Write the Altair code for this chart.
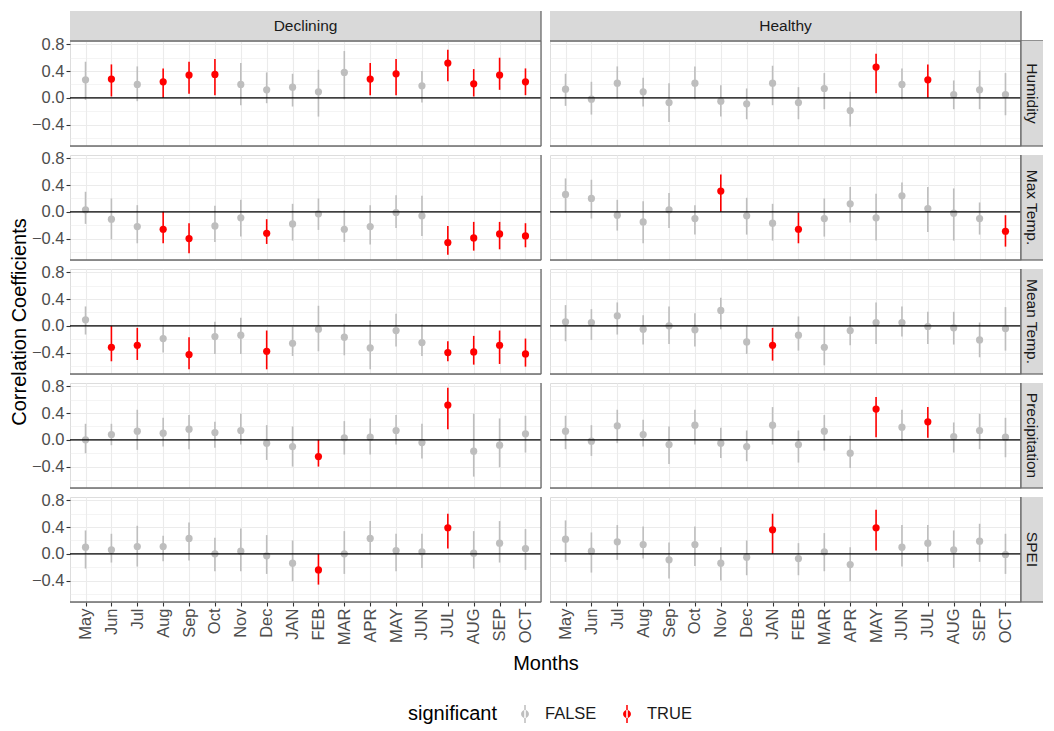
import json
import altair as alt
import pandas as pd

# ---------------- data ----------------
months = ["May", "Jun", "Jul", "Aug", "Sep", "Oct", "Nov", "Dec", "JAN", "FEB",
          "MAR", "APR", "MAY", "JUN", "JUL", "AUG", "SEP", "OCT"]
sites = ["Declining", "Healthy"]
variables = ["Humidity", "Max Temp.", "Mean Temp.", "Precipitation", "SPEI"]
y_major = [-0.4, 0.0, 0.4, 0.8]
y_minor = [-0.6, -0.2, 0.2, 0.6]
y_domain = [-0.72, 0.85]
legend_levels = ["FALSE", "TRUE"]
legend_colors = ["#BEBEBE", "#FF0000"]

dec_hum_est = [0.27, 0.28, 0.20, 0.24, 0.34, 0.35, 0.20, 0.12, 0.16, 0.09, 0.38, 0.28, 0.36, 0.18, 0.52, 0.21, 0.34, 0.24]
dec_hum_lo = [-0.03, 0.02, -0.05, 0.00, 0.06, 0.04, -0.11, -0.08, -0.13, -0.28, -0.02, 0.04, 0.04, -0.07, 0.25, 0.02, 0.12, 0.04]
dec_hum_hi = [0.54, 0.50, 0.47, 0.44, 0.54, 0.58, 0.52, 0.38, 0.36, 0.42, 0.70, 0.52, 0.58, 0.40, 0.72, 0.43, 0.60, 0.44]
dec_hum_sig = [0, 1, 0, 1, 1, 1, 0, 0, 0, 0, 0, 1, 1, 0, 1, 1, 1, 1]

hea_hum_est = [0.13, -0.02, 0.22, 0.09, -0.07, 0.22, -0.05, -0.09, 0.22, -0.07, 0.14, -0.19, 0.46, 0.20, 0.27, 0.05, 0.12, 0.05]
hea_hum_lo = [-0.12, -0.25, -0.01, -0.13, -0.36, -0.02, -0.28, -0.32, -0.11, -0.32, -0.17, -0.43, 0.07, -0.02, 0.00, -0.17, -0.17, -0.26]
hea_hum_hi = [0.36, 0.24, 0.47, 0.30, 0.22, 0.47, 0.19, 0.14, 0.48, 0.16, 0.37, 0.09, 0.66, 0.44, 0.50, 0.26, 0.41, 0.37]
hea_hum_sig = [0, 0, 0, 0, 0, 0, 0, 0, 0, 0, 0, 0, 1, 0, 1, 0, 0, 0]

dec_max_est = [0.03, -0.11, -0.22, -0.26, -0.40, -0.21, -0.09, -0.32, -0.18, -0.03, -0.26, -0.22, -0.01, -0.06, -0.46, -0.39, -0.33, -0.36]
dec_max_lo = [-0.18, -0.41, -0.47, -0.47, -0.62, -0.45, -0.37, -0.48, -0.43, -0.27, -0.45, -0.49, -0.24, -0.36, -0.64, -0.58, -0.56, -0.53]
dec_max_hi = [0.30, 0.20, 0.10, 0.00, -0.17, 0.09, 0.18, -0.11, 0.12, 0.20, 0.02, 0.10, 0.25, 0.24, -0.21, -0.15, -0.15, -0.17]
dec_max_sig = [0, 0, 0, 1, 1, 0, 0, 1, 0, 0, 0, 0, 0, 0, 1, 1, 1, 1]

hea_max_est = [0.26, 0.20, -0.05, -0.15, 0.03, -0.10, 0.31, -0.06, -0.17, -0.26, -0.10, 0.12, -0.09, 0.24, 0.05, -0.02, -0.10, -0.29]
hea_max_lo = [-0.01, -0.10, -0.28, -0.47, -0.24, -0.34, 0.00, -0.34, -0.43, -0.47, -0.37, -0.16, -0.43, 0.01, -0.30, -0.43, -0.34, -0.52]
hea_max_hi = [0.50, 0.48, 0.18, 0.16, 0.28, 0.10, 0.56, 0.21, 0.12, -0.01, 0.20, 0.37, 0.27, 0.44, 0.37, 0.35, 0.14, -0.05]
hea_max_sig = [0, 0, 0, 0, 0, 0, 1, 0, 0, 1, 0, 0, 0, 0, 0, 0, 0, 1]

dec_mean_est = [0.09, -0.32, -0.29, -0.19, -0.43, -0.16, -0.14, -0.38, -0.26, -0.05, -0.17, -0.33, -0.07, -0.25, -0.40, -0.39, -0.29, -0.42]
dec_mean_lo = [-0.13, -0.53, -0.51, -0.40, -0.65, -0.42, -0.42, -0.65, -0.45, -0.38, -0.44, -0.65, -0.31, -0.45, -0.53, -0.58, -0.57, -0.61]
dec_mean_hi = [0.29, 0.00, -0.03, 0.01, -0.17, 0.06, 0.12, -0.07, -0.01, 0.30, 0.03, 0.08, 0.18, 0.02, -0.23, -0.15, -0.07, -0.19]
dec_mean_sig = [0, 1, 1, 0, 1, 0, 0, 1, 0, 0, 0, 0, 0, 0, 1, 1, 1, 1]

hea_mean_est = [0.06, 0.05, 0.15, -0.05, 0.00, -0.06, 0.23, -0.24, -0.29, -0.14, -0.32, -0.07, 0.05, 0.05, -0.01, -0.03, -0.21, -0.04]
hea_mean_lo = [-0.23, -0.21, -0.13, -0.28, -0.27, -0.31, -0.05, -0.42, -0.52, -0.37, -0.59, -0.29, -0.27, -0.16, -0.27, -0.28, -0.47, -0.37]
hea_mean_hi = [0.31, 0.25, 0.35, 0.16, 0.29, 0.19, 0.42, 0.00, -0.03, 0.14, 0.00, 0.14, 0.35, 0.29, 0.21, 0.21, 0.05, 0.28]
hea_mean_sig = [0, 0, 0, 0, 0, 0, 0, 0, 1, 0, 0, 0, 0, 0, 0, 0, 0, 0]

dec_prec_est = [0.00, 0.08, 0.13, 0.10, 0.16, 0.11, 0.14, -0.05, -0.10, -0.25, 0.03, 0.04, 0.14, -0.04, 0.52, -0.17, -0.08, 0.09]
dec_prec_lo = [-0.20, -0.08, -0.15, -0.10, -0.14, -0.12, -0.07, -0.30, -0.40, -0.40, -0.22, -0.22, -0.07, -0.28, 0.16, -0.55, -0.41, -0.19]
dec_prec_hi = [0.24, 0.24, 0.45, 0.33, 0.37, 0.27, 0.39, 0.22, 0.20, 0.00, 0.28, 0.32, 0.37, 0.24, 0.78, 0.39, 0.32, 0.36]
dec_prec_sig = [0, 0, 0, 0, 0, 0, 0, 0, 0, 1, 0, 0, 0, 0, 1, 0, 0, 0]

hea_prec_est = [0.13, -0.02, 0.21, 0.08, -0.07, 0.22, -0.05, -0.10, 0.22, -0.07, 0.13, -0.20, 0.46, 0.19, 0.27, 0.05, 0.14, 0.04]
hea_prec_lo = [-0.14, -0.24, -0.05, -0.10, -0.36, -0.07, -0.27, -0.32, -0.07, -0.34, -0.16, -0.42, 0.04, -0.02, 0.03, -0.19, -0.14, -0.26]
hea_prec_hi = [0.36, 0.22, 0.45, 0.30, 0.20, 0.45, 0.18, 0.14, 0.49, 0.14, 0.37, 0.06, 0.64, 0.45, 0.49, 0.26, 0.39, 0.33]
hea_prec_sig = [0, 0, 0, 0, 0, 0, 0, 0, 0, 0, 0, 0, 1, 0, 1, 0, 0, 0]

dec_spei_est = [0.10, 0.06, 0.11, 0.11, 0.23, 0.00, 0.04, -0.03, -0.14, -0.24, 0.00, 0.23, 0.05, 0.03, 0.39, 0.01, 0.16, 0.08]
dec_spei_lo = [-0.22, -0.13, -0.19, -0.11, -0.10, -0.26, -0.26, -0.30, -0.41, -0.46, -0.30, -0.01, -0.26, -0.21, 0.08, -0.22, -0.13, -0.24]
dec_spei_hi = [0.35, 0.30, 0.42, 0.27, 0.47, 0.24, 0.38, 0.28, 0.20, 0.00, 0.34, 0.49, 0.30, 0.30, 0.60, 0.34, 0.49, 0.37]
dec_spei_sig = [0, 0, 0, 0, 0, 0, 0, 0, 0, 1, 0, 0, 0, 0, 1, 0, 0, 0]

hea_spei_est = [0.22, 0.04, 0.18, 0.14, -0.09, 0.14, -0.14, -0.05, 0.36, -0.07, 0.03, -0.16, 0.39, 0.10, 0.16, 0.06, 0.19, -0.01]
hea_spei_lo = [-0.12, -0.28, -0.09, -0.07, -0.37, -0.18, -0.40, -0.32, 0.00, -0.32, -0.26, -0.41, 0.05, -0.19, -0.12, -0.21, -0.12, -0.30]
hea_spei_hi = [0.50, 0.32, 0.43, 0.41, 0.17, 0.41, 0.10, 0.20, 0.60, 0.16, 0.31, 0.10, 0.66, 0.43, 0.43, 0.35, 0.45, 0.30]
hea_spei_sig = [0, 0, 0, 0, 0, 0, 0, 0, 1, 0, 0, 0, 1, 0, 0, 0, 0, 0]

series = {
    ("Declining", "Humidity"): (dec_hum_est, dec_hum_lo, dec_hum_hi, dec_hum_sig),
    ("Healthy", "Humidity"): (hea_hum_est, hea_hum_lo, hea_hum_hi, hea_hum_sig),
    ("Declining", "Max Temp."): (dec_max_est, dec_max_lo, dec_max_hi, dec_max_sig),
    ("Healthy", "Max Temp."): (hea_max_est, hea_max_lo, hea_max_hi, hea_max_sig),
    ("Declining", "Mean Temp."): (dec_mean_est, dec_mean_lo, dec_mean_hi, dec_mean_sig),
    ("Healthy", "Mean Temp."): (hea_mean_est, hea_mean_lo, hea_mean_hi, hea_mean_sig),
    ("Declining", "Precipitation"): (dec_prec_est, dec_prec_lo, dec_prec_hi, dec_prec_sig),
    ("Healthy", "Precipitation"): (hea_prec_est, hea_prec_lo, hea_prec_hi, hea_prec_sig),
    ("Declining", "SPEI"): (dec_spei_est, dec_spei_lo, dec_spei_hi, dec_spei_sig),
    ("Healthy", "SPEI"): (hea_spei_est, hea_spei_lo, hea_spei_hi, hea_spei_sig),
}

# ---------------- layout / style ----------------
W, H = 471, 105
GAP = 9
STRIP_H, STRIP_W = 30, 22
GRID = "#EBEBEB"
BORDER = "#6B6B6B"
STRIP_FILL = "#D9D9D9"
FONT = "Liberation Sans"
TICK_FS = 16.5
TITLE_FS = 20
STRIP_FS = 15.5

major_test = "indexof(%s, datum.value) >= 0" % json.dumps(y_major)
y_vals = sorted(y_major + y_minor)
xscale = alt.Scale(type="point", domain=months, padding=0.6)
yscale = alt.Scale(domain=y_domain, nice=False, zero=False)

# legend glyph: vertical bar with a dot (pointrange)
GLYPH = ("M-0.085,-1L0.085,-1L0.085,1L-0.085,1Z "
         "M-0.44,0A0.44,0.44 0 1,0 0.44,0A0.44,0.44 0 1,0 -0.44,0Z")

legend = alt.Legend(
    title="significant", orient="none", legendX=338, legendY=664,
    direction="horizontal", titleOrient="left", titleFontSize=TITLE_FS,
    titleFontWeight="normal", titleColor="#000000", titlePadding=19,
    labelFontSize=TICK_FS, labelColor="#1A1A1A", labelOffset=11,
    symbolType=GLYPH, symbolSize=324, symbolStrokeWidth=0, symbolOpacity=1,
    columnPadding=21,
)
color = alt.Color("significant:N",
                  scale=alt.Scale(domain=legend_levels, range=legend_colors),
                  legend=legend)


def y_axis(show_labels, title):
    if show_labels:
        kw = dict(labels=True, ticks=True, tickSize=4, tickWidth=1.1,
                  tickColor={"condition": {"test": major_test, "value": "#333333"},
                             "value": "rgba(0,0,0,0)"},
                  format=".1f", labelExpr=f"{major_test} ? datum.label : ''",
                  labelColor="#4D4D4D", labelFontSize=TICK_FS, labelPadding=2)
    else:
        kw = dict(labels=False, ticks=False)
    if title:
        kw.update(title=title, titleFontSize=TITLE_FS, titleFontWeight="normal",
                  titleColor="#000000", titlePadding=2)
    else:
        kw["title"] = None
    return alt.Axis(values=y_vals, grid=True, gridColor=GRID,
                    gridWidth={"condition": {"test": major_test, "value": 1.1},
                               "value": 0.55},
                    domain=False, **kw)


def x_axis(bottom, title):
    kw = dict(grid=True, gridColor=GRID, gridWidth=1.1, domain=False)
    if bottom:
        kw.update(labels=True, ticks=True, tickSize=4, tickWidth=1.1,
                  tickColor="#333333", labelAngle=-90, labelColor="#4D4D4D",
                  labelFontSize=TICK_FS, labelPadding=2)
    else:
        kw.update(labels=False, ticks=False)
    if title:
        kw.update(title=title, titleFontSize=TITLE_FS, titleFontWeight="normal",
                  titleColor="#000000", titleX=W + GAP / 2, titleY=61,
                  titleAlign="center", titleBaseline="middle")
    else:
        kw["title"] = None
    return alt.Axis(**kw)


rows = []
for site in sites:
    for var in variables:
        est, lo, hi, sig = series[(site, var)]
        for m, e, l, h, s in zip(months, est, lo, hi, sig):
            rows.append({"site": site, "variable": var, "month": m, "est": e,
                         "lo": l, "hi": h,
                         "significant": legend_levels[1] if s else legend_levels[0]})
df = pd.DataFrame(rows)
one = pd.DataFrame({"k": [0]})
zero_df = pd.DataFrame({"zero": [0.0]})


def cell(r, c):
    site, var = sites[c], variables[r]
    d = df[(df.site == site) & (df.variable == var)]
    last = r == len(variables) - 1
    xa = x_axis(last, "Months" if (last and c == 0) else None)
    ya = y_axis(c == 0, "Correlation Coefficients" if (c == 0 and r == 2) else None)
    X = alt.X("month:N", scale=xscale, axis=xa)

    pts = alt.Chart(d).mark_circle(size=52, opacity=1).encode(
        x=X, y=alt.Y("est:Q", scale=yscale, axis=ya), color=color)
    bars = alt.Chart(d).mark_rule(strokeWidth=1.6).encode(
        x=X, y=alt.Y("lo:Q", scale=yscale, axis=ya), y2="hi:Q", color=color)
    zero = alt.Chart(zero_df).mark_rule(color="black", strokeWidth=1.1).encode(
        y=alt.Y("zero:Q", scale=yscale, axis=ya))

    layers = [pts, bars, zero]
    # panel border (right and bottom edges)
    layers.append(alt.Chart(one).mark_rule(color=BORDER, strokeWidth=1.3).encode(
        x=alt.value(W), y=alt.value(0), y2=alt.value(H)))
    layers.append(alt.Chart(one).mark_rule(color=BORDER, strokeWidth=1.3).encode(
        x=alt.value(0), x2=alt.value(W), y=alt.value(H)))

    if r == 0:
        sdf = pd.DataFrame({"label": [site]})
        layers.append(alt.Chart(sdf).mark_rect(color=STRIP_FILL).encode(
            x=alt.value(0), x2=alt.value(W), y=alt.value(-STRIP_H), y2=alt.value(0)))
        layers.append(alt.Chart(sdf).mark_text(fontSize=STRIP_FS, color="#1A1A1A",
                                               baseline="middle", align="center").encode(
            x=alt.value(W / 2), y=alt.value(-STRIP_H / 2), text="label:N"))
        layers.append(alt.Chart(one).mark_rule(color=BORDER, strokeWidth=1.3).encode(
            x=alt.value(W), y=alt.value(-STRIP_H), y2=alt.value(0)))
        layers.append(alt.Chart(one).mark_rule(color=BORDER, strokeWidth=1.3).encode(
            x=alt.value(0), x2=alt.value(W + (STRIP_W if c == 1 else 0)), y=alt.value(0)))
    if c == 1:
        vdf = pd.DataFrame({"label": [var]})
        layers.append(alt.Chart(vdf).mark_rect(color=STRIP_FILL).encode(
            x=alt.value(W), x2=alt.value(W + STRIP_W), y=alt.value(0), y2=alt.value(H)))
        layers.append(alt.Chart(vdf).mark_text(fontSize=STRIP_FS, color="#1A1A1A", angle=90,
                                               baseline="middle", align="center").encode(
            x=alt.value(W + STRIP_W / 2), y=alt.value(H / 2), text="label:N"))
        layers.append(alt.Chart(one).mark_rule(color=BORDER, strokeWidth=1.3).encode(
            x=alt.value(W), x2=alt.value(W + STRIP_W), y=alt.value(H)))
        layers.append(alt.Chart(one).mark_rule(color=BORDER, strokeWidth=1.3).encode(
            x=alt.value(W), y=alt.value(0), y2=alt.value(H)))

    return alt.layer(*layers).properties(width=W, height=H)


cells = [cell(r, c) for r in range(len(variables)) for c in range(len(sites))]

chart = (
    alt.concat(*cells, columns=2, spacing=GAP, bounds="flush")
    .resolve_scale(x="independent", y="independent", color="shared")
    .resolve_legend(color="shared")
    .properties(padding={"left": 0, "top": 1, "right": 0, "bottom": 0},
                background="white")
    .configure_view(stroke=None)
    .configure(font=FONT)
)

chart.save("out.html", embed_options={"renderer": "svg", "actions": False})
